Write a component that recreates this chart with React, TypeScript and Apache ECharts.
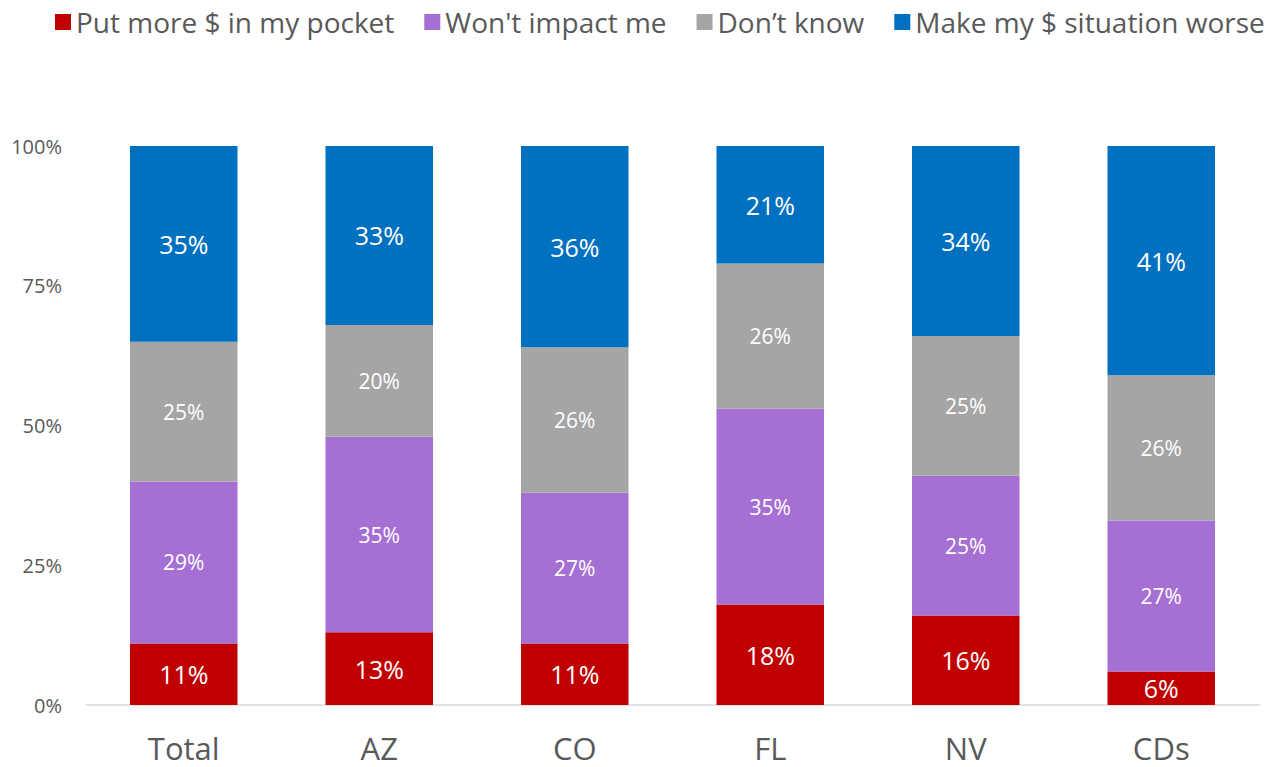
import React, { useEffect, useRef } from "react";
import * as echarts from "echarts";

const categories = ["Total", "AZ", "CO", "FL", "NV", "CDs"];
const seriesNames = ["Put more $ in my pocket", "Won't impact me", "Don\u2019t know", "Make my $ situation worse"];
const putMore = [11, 13, 11, 18, 16, 6];
const wontImpact = [29, 35, 27, 35, 25, 27];
const dontKnow = [25, 20, 26, 26, 25, 26];
const makeWorse = [35, 33, 36, 21, 34, 41];
const yTicks = [0, 25, 50, 75, 100];

const colors = ["#C00000", "#A66FD4", "#A5A5A5", "#0070C0"];
const labelSizes = [25, 21, 21, 25];
const FONT = "'Open Sans', Lato, sans-serif";

export default function App() {
  const ref = useRef<HTMLDivElement>(null);
  useEffect(() => {
    const chart = echarts.init(ref.current!, null, { renderer: "svg" });
    const data = [putMore, wontImpact, dontKnow, makeWorse];
    chart.setOption({
      animation: false,
      textStyle: { fontFamily: FONT },
      legend: {
        top: 8,
        left: 55,
        right: 0,
        padding: 0,
        itemWidth: 16,
        itemHeight: 16,
        itemGap: 30,
        icon: "rect",
        textStyle: { fontSize: 28, color: "#595959", fontFamily: FONT },
        data: seriesNames,
      },
      grid: { left: 86, right: 15, top: 146, bottom: 62, containLabel: false },
      xAxis: {
        type: "category",
        data: categories,
        axisLine: { lineStyle: { color: "#D9D9D9", width: 1.5 } },
        axisTick: { show: false },
        axisLabel: { fontSize: 31, color: "#595959", margin: 27, fontFamily: FONT },
      },
      yAxis: {
        type: "value",
        min: 0,
        max: 100,
        interval: 25,
        axisLine: { show: false },
        axisTick: { show: false },
        splitLine: { show: false },
        axisLabel: {
          fontSize: 20,
          color: "#595959",
          margin: 24,
          fontFamily: FONT,
          formatter: (v: number) => (yTicks.includes(v) ? v + "%" : ""),
        },
      },
      series: seriesNames.map((name, i) => ({
        name,
        type: "bar",
        stack: "total",
        barWidth: "55%",
        itemStyle: { color: colors[i] },
        label: {
          show: true,
          position: "inside",
          color: "#FFFFFF",
          fontSize: labelSizes[i],
          fontFamily: FONT,
          formatter: (p: any) => p.value + "%",
        },
        data: data[i],
      })),
    });
    return () => chart.dispose();
  }, []);
  return (
    <div
      ref={ref}
      style={{ position: "fixed", left: 0, top: 0, width: 1274, height: 767, background: "#fff" }}
    />
  );
}
